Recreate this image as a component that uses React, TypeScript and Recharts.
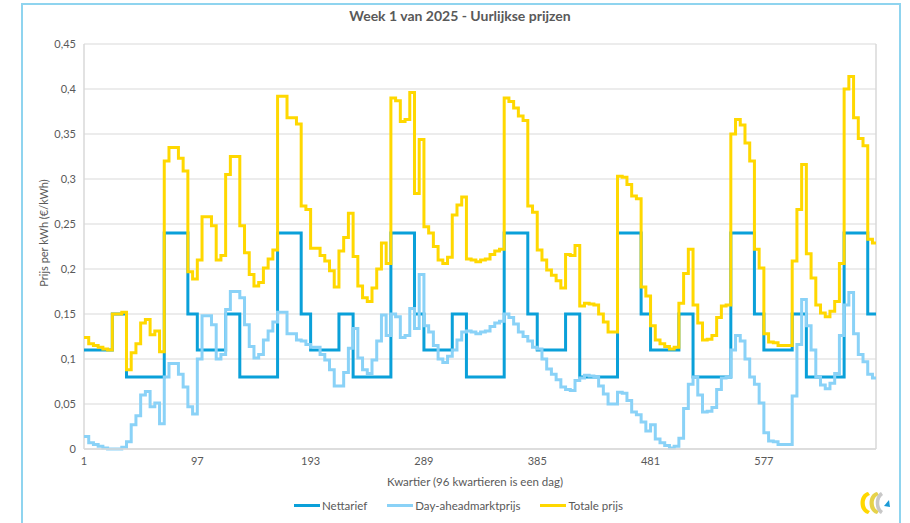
import React from 'react';
import { LineChart, Line, XAxis, YAxis, CartesianGrid } from 'recharts';

// hourly values, 24 per day, 7 days (Wed 1 Jan .. Tue 7 Jan)
const nettarief = [
  0.11, 0.11, 0.11, 0.11, 0.11, 0.11, 0.15, 0.15, 0.15, 0.08, 0.08, 0.08, 0.08, 0.08, 0.08, 0.08, 0.08, 0.24, 0.24, 0.24, 0.24, 0.24, 0.15, 0.15,
  0.11, 0.11, 0.11, 0.11, 0.11, 0.11, 0.15, 0.15, 0.15, 0.08, 0.08, 0.08, 0.08, 0.08, 0.08, 0.08, 0.08, 0.24, 0.24, 0.24, 0.24, 0.24, 0.15, 0.15,
  0.11, 0.11, 0.11, 0.11, 0.11, 0.11, 0.15, 0.15, 0.15, 0.08, 0.08, 0.08, 0.08, 0.08, 0.08, 0.08, 0.08, 0.24, 0.24, 0.24, 0.24, 0.24, 0.15, 0.15,
  0.11, 0.11, 0.11, 0.11, 0.11, 0.11, 0.15, 0.15, 0.15, 0.08, 0.08, 0.08, 0.08, 0.08, 0.08, 0.08, 0.08, 0.24, 0.24, 0.24, 0.24, 0.24, 0.15, 0.15,
  0.11, 0.11, 0.11, 0.11, 0.11, 0.11, 0.15, 0.15, 0.15, 0.08, 0.08, 0.08, 0.08, 0.08, 0.08, 0.08, 0.08, 0.24, 0.24, 0.24, 0.24, 0.24, 0.15, 0.15,
  0.11, 0.11, 0.11, 0.11, 0.11, 0.11, 0.15, 0.15, 0.15, 0.08, 0.08, 0.08, 0.08, 0.08, 0.08, 0.08, 0.08, 0.24, 0.24, 0.24, 0.24, 0.24, 0.15, 0.15,
  0.11, 0.11, 0.11, 0.11, 0.11, 0.11, 0.15, 0.15, 0.15, 0.08, 0.08, 0.08, 0.08, 0.08, 0.08, 0.08, 0.08, 0.24, 0.24, 0.24, 0.24, 0.24, 0.15, 0.15,
];

const dayAhead = [
  0.014, 0.007, 0.005, 0.003, 0.001, 0.000, 0.000, 0.000, 0.002, 0.008, 0.027, 0.037, 0.060, 0.064, 0.047, 0.051, 0.028, 0.080, 0.095, 0.095, 0.083, 0.069, 0.047, 0.039,
  0.100, 0.148, 0.148, 0.138, 0.100, 0.105, 0.155, 0.175, 0.175, 0.168, 0.138, 0.114, 0.101, 0.105, 0.121, 0.131, 0.141, 0.152, 0.152, 0.128, 0.128, 0.121, 0.120, 0.116,
  0.113, 0.113, 0.105, 0.099, 0.088, 0.070, 0.070, 0.085, 0.112, 0.134, 0.101, 0.088, 0.084, 0.099, 0.120, 0.149, 0.126, 0.150, 0.147, 0.124, 0.126, 0.156, 0.134, 0.194,
  0.137, 0.130, 0.115, 0.100, 0.096, 0.103, 0.110, 0.121, 0.130, 0.131, 0.130, 0.128, 0.130, 0.131, 0.136, 0.140, 0.142, 0.150, 0.146, 0.139, 0.130, 0.125, 0.120, 0.113,
  0.111, 0.100, 0.089, 0.083, 0.077, 0.069, 0.066, 0.065, 0.076, 0.079, 0.082, 0.081, 0.080, 0.070, 0.061, 0.050, 0.050, 0.063, 0.062, 0.054, 0.041, 0.038, 0.030, 0.020,
  0.027, 0.011, 0.007, 0.004, 0.001, 0.003, 0.012, 0.045, 0.072, 0.080, 0.060, 0.041, 0.042, 0.046, 0.066, 0.079, 0.080, 0.110, 0.126, 0.120, 0.100, 0.080, 0.072, 0.051,
  0.018, 0.009, 0.008, 0.005, 0.005, 0.005, 0.059, 0.116, 0.166, 0.137, 0.110, 0.080, 0.071, 0.067, 0.073, 0.084, 0.126, 0.160, 0.174, 0.128, 0.105, 0.097, 0.083, 0.079,
];

const totale = [
  0.124, 0.117, 0.115, 0.113, 0.111, 0.110, 0.150, 0.150, 0.152, 0.088, 0.107, 0.117, 0.140, 0.144, 0.127, 0.131, 0.108, 0.320, 0.335, 0.335, 0.323, 0.309, 0.197, 0.189,
  0.210, 0.258, 0.258, 0.248, 0.210, 0.215, 0.305, 0.325, 0.325, 0.248, 0.218, 0.194, 0.181, 0.185, 0.201, 0.211, 0.221, 0.392, 0.392, 0.368, 0.368, 0.361, 0.270, 0.266,
  0.223, 0.223, 0.215, 0.209, 0.198, 0.180, 0.220, 0.235, 0.262, 0.214, 0.181, 0.168, 0.164, 0.179, 0.200, 0.229, 0.206, 0.390, 0.387, 0.364, 0.366, 0.396, 0.284, 0.344,
  0.247, 0.240, 0.225, 0.210, 0.206, 0.213, 0.260, 0.271, 0.280, 0.211, 0.210, 0.208, 0.210, 0.211, 0.216, 0.220, 0.222, 0.390, 0.386, 0.379, 0.370, 0.365, 0.270, 0.263,
  0.221, 0.210, 0.199, 0.193, 0.187, 0.179, 0.216, 0.215, 0.226, 0.159, 0.162, 0.161, 0.160, 0.150, 0.141, 0.130, 0.130, 0.303, 0.302, 0.294, 0.281, 0.278, 0.180, 0.170,
  0.137, 0.121, 0.117, 0.114, 0.111, 0.113, 0.162, 0.195, 0.222, 0.160, 0.140, 0.121, 0.122, 0.126, 0.146, 0.159, 0.160, 0.350, 0.366, 0.360, 0.340, 0.320, 0.222, 0.201,
  0.128, 0.119, 0.118, 0.115, 0.115, 0.115, 0.209, 0.266, 0.316, 0.217, 0.190, 0.160, 0.151, 0.147, 0.153, 0.164, 0.206, 0.400, 0.414, 0.368, 0.345, 0.337, 0.233, 0.229,
];

const xTicks = [1, 97, 193, 289, 385, 481, 577];
const yTicks = [0, 0.05, 0.1, 0.15, 0.2, 0.25, 0.3, 0.35, 0.4, 0.45];

const NET = '#0aa0d9';
const DA = '#8ad2f7';
const TOT = '#ffd800';
const TXT = '#595959';
const FONT = 'Lato, "Open Sans", sans-serif';

// each hour = 4 quarters; one extra point closes the last hour at quarter 672
const data = nettarief.map((v, h) => ({ q: 1 + 4 * h, net: v, da: dayAhead[h], tot: totale[h] }));
data.push({ q: 672, net: nettarief[167], da: dayAhead[167], tot: totale[167] });

const fmt = (v: number) => String(v).replace('.', ',');

const LegendItem = ({ color, label }: { color: string; label: string }) => (
  <div style={{ display: 'flex', alignItems: 'center', marginRight: 20 }}>
    <div style={{ width: 26, height: 3, background: color, marginRight: 2 }} />
    <span>{label}</span>
  </div>
);

export default function App() {
  return (
    <div style={{ position: 'absolute', left: 0, top: 0, width: 910, height: 523, background: '#fff', overflow: 'hidden', fontFamily: FONT }}>
      <div style={{ position: 'absolute', left: 21, top: 3, width: 876, height: 600, borderTop: '2px solid #8fd4ef', borderLeft: '2px solid #8fd4ef', borderRight: '2px solid #8fd4ef' }} />
      <div style={{ position: 'absolute', left: 0, top: 7, width: 920, textAlign: 'center', fontSize: 14, fontWeight: 700, color: TXT }}>
        Week 1 van 2025 - Uurlijkse prijzen
      </div>
      <div style={{ position: 'absolute', left: 0, top: 0 }}>
        <LineChart width={910} height={523} data={data} margin={{ top: 44, right: 34, bottom: 44, left: 24 }}>
          <CartesianGrid stroke="#d9d9d9" vertical={false} />
          <CartesianGrid stroke="#d9d9d9" horizontal={false} verticalPoints={[84, 876]} strokeWidth={1.5} />
          <XAxis
            dataKey="q"
            type="number"
            domain={[1, 672]}
            ticks={xTicks}
            interval={0}
            height={30}
            tickLine={false}
            axisLine={{ stroke: '#d9d9d9', strokeWidth: 1.5 }}
            tick={{ fill: TXT, fontSize: 11, fontFamily: FONT }}
          />
          <YAxis
            domain={[0, 0.45]}
            ticks={yTicks}
            width={60}
            tickLine={false}
            axisLine={false}
            tickFormatter={fmt}
            tick={{ fill: TXT, fontSize: 11, fontFamily: FONT }}
          />
          <Line dataKey="net" name="Nettarief" type="stepAfter" stroke={NET} strokeWidth={3} dot={false} isAnimationActive={false} />
          <Line dataKey="da" name="Day-aheadmarktprijs" type="stepAfter" stroke={DA} strokeWidth={3} dot={false} isAnimationActive={false} />
          <Line dataKey="tot" name="Totale prijs" type="stepAfter" stroke={TOT} strokeWidth={3} dot={false} isAnimationActive={false} />
        </LineChart>
      </div>
      <div style={{ position: 'absolute', left: 43, top: 233, transform: 'translate(-50%, -50%) rotate(-90deg)', whiteSpace: 'nowrap', fontSize: 11, color: TXT }}>
        Prijs per kWh (€/kWh)
      </div>
      <div style={{ position: 'absolute', left: 475, top: 481, transform: 'translate(-50%, -50%)', whiteSpace: 'nowrap', fontSize: 11.5, color: TXT }}>
        Kwartier (96 kwartieren is een dag)
      </div>
      <div style={{ position: 'absolute', left: 294, top: 499, display: 'flex', fontSize: 11.5, color: TXT }}>
        <LegendItem color={NET} label="Nettarief" />
        <LegendItem color={DA} label="Day-aheadmarktprijs" />
        <LegendItem color={TOT} label="Totale prijs" />
      </div>
      <svg style={{ position: 'absolute', left: 856, top: 490 }} width={36} height={26} viewBox="0 0 36 26">
        <path d="M12 2 C2 4 2 22 12 24 L14 21 C7 19 7 7 14 5 Z" fill="#ffd800" />
        <path d="M21 2 C11 4 11 22 21 24 L23 21 C16 19 16 7 23 5 Z" fill="#e6d24a" />
        <path d="M27 5 C22 8 22 18 27 21 L25 24 C18 20 18 6 25 2 Z" fill="#c8c8c8" />
        <path d="M28 16 L33 10 L34 17 Z" fill="#1a9ad6" />
      </svg>
    </div>
  );
}
